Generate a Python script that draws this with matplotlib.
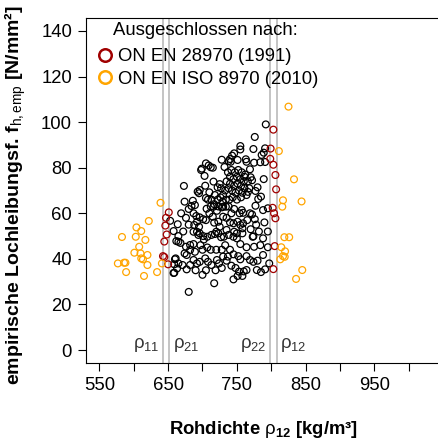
import matplotlib
matplotlib.use("Agg")
import matplotlib.pyplot as plt
from matplotlib.lines import Line2D

plt.rcParams['font.family'] = ['Liberation Sans', 'DejaVu Sans']
plt.rcParams['mathtext.fontset'] = 'custom'
plt.rcParams['mathtext.rm'] = 'Liberation Sans'
plt.rcParams['mathtext.it'] = 'Liberation Sans:italic'
plt.rcParams['mathtext.bf'] = 'Liberation Sans:bold'

# Punkte innerhalb der Grenzen (schwarz)
black_x = [792, 776, 755, 755, 774, 791, 789, 786, 746, 743, 740, 738, 741, 728, 732, 751, 763, 764,
           775, 784, 791, 705, 709, 712, 715, 699, 698, 769, 703, 770, 772, 789, 716, 725, 722, 673,
           704, 696, 693, 695, 710, 780, 777, 785, 781, 766, 764,
           737, 742, 747, 752, 757, 762, 740, 745, 750, 755, 760, 735, 740, 746, 751, 756, 761, 738,
           743, 748, 753, 758, 733, 744, 750, 756, 739, 727, 730, 734, 729, 761, 766, 768,
           718, 722, 726, 713, 717, 723,
           674, 686, 689, 684, 680, 705, 777, 788, 795, 653, 658, 664, 665, 774,
           730, 734, 728, 716, 721, 746, 757, 754, 759, 769, 772, 776,
           687, 691, 696, 701, 692, 688, 695, 705, 715, 717, 723, 730, 725, 720, 723,
           687, 692, 696, 701, 707, 713, 735, 745, 751, 755, 759, 758, 746, 750,
           665, 676, 682, 687, 674, 677, 682, 689, 694, 702, 718, 727, 731, 738, 745, 750, 758, 773,
           775, 755, 764,
           660, 665, 658, 663, 671, 677, 682, 687, 692, 696, 704, 708, 713, 721, 724, 735, 752, 755,
           764, 769, 774, 780, 788, 795, 797, 791, 785, 779, 717, 680, 745, 753, 758, 760, 764, 751,
           661, 659, 659, 662,
           708, 712, 738, 742, 735, 740, 710, 706,
           728, 733, 740, 745, 737, 730, 720, 712, 707, 700, 697, 742, 748, 728, 719, 705, 700, 690,
           784, 788, 782, 778, 790, 795, 770, 765, 676, 680, 669, 672, 668]
black_y = [99.0, 93.5, 89.5, 88.0, 88.2, 88.5, 86.6, 85.6, 86.3, 85.3, 83.8, 82.9, 82.6, 83.5, 80.3, 83.4, 83.7, 82.6,
           82.2, 82.4, 82.5, 81.9, 81.0, 80.2, 80.0, 79.6, 79.0, 79.3, 76.4, 75.8, 74.5, 75.0, 73.9, 72.8, 71.4, 72.0,
           72.1, 70.2, 69.5, 68.8, 69.2, 71.4, 69.8, 67.3, 66.3, 69.4, 68.0,
           78, 79, 78, 79, 78, 77, 76, 75, 76, 75, 74, 74, 73, 72, 73, 72, 71, 71,
           70, 69, 70, 69, 70, 67, 66, 67, 66, 71, 68, 66, 65, 76, 74, 71,
           68, 66, 67, 66, 64, 63,
           65.1, 65.5, 63.6, 63.2, 61.9, 66.7, 63.3, 61.4, 62.2, 56.7, 52.2, 55.2, 50.0, 49.9,
           62.9, 62.9, 62.6, 62.9, 61.1, 61.9, 61.4, 60.0, 60.2, 60.0, 59.5, 57.4,
           60.0, 58.8, 58.2, 57.4, 56.3, 54.9, 54.1, 57.0, 58.5, 55.9, 56.3, 58.5, 54.1, 51.9, 51.2,
           51.9, 51.9, 51.2, 50.0, 49.7, 50.5, 52.7, 55.6, 56.3, 54.9, 55.6, 53.4, 51.9, 51.2,
           47.5, 45.3, 46.1, 46.5, 42.4, 41.7, 43.9, 43.1, 50.5, 48.5, 50.9, 49.5, 49.7, 50.5, 49.7, 49.0, 51.2, 49.7,
           45.3, 46.5, 45.1,
           39.8, 38.0, 33.8, 35.8, 37.3, 35.4, 37.3, 39.5, 38.0, 38.7, 40.2, 38.7, 37.3, 39.5, 38.0, 39.2, 41.2, 39.8,
           41.2, 39.5, 38.7, 39.2, 41.7, 45.1, 38.0, 35.4, 34.2, 35.1, 29.3, 25.5, 31.0, 34.4, 32.5, 34.5, 35.1, 32.5,
           40.2, 37.6, 33.9, 47.8,
           66, 63, 63, 60, 58, 56, 60, 62,
           44, 46, 44, 42, 41, 41, 44, 44, 45, 44, 46, 37, 36, 36, 35, 35, 33, 35,
           46, 49, 52, 55, 56, 52, 53, 57, 58, 55, 60, 52, 47]

# ausgeschlossen nach ON EN 28970 (1991)
red_x = [803, 799, 798.5, 803, 806, 807, 802, 804, 806, 805, 803,
         651, 647, 646, 648, 644.5, 642.6, 644.5, 650]
red_y = [96.7, 88.4, 83.9, 81.3, 76.8, 70.5, 62.4, 60.0, 57.8, 45.6, 35.5,
         60.4, 58.0, 54.6, 50.7, 47.6, 41.2, 40.8, 37.6]

# ausgeschlossen nach ON EN ISO 8970 (2010)
orange_x = [639, 622, 604, 611, 583, 603, 617, 608, 601, 610, 620, 613.5, 611, 577, 586, 588, 620,
            589, 615, 634, 641,
            825, 811, 833, 817, 844, 816, 819, 826, 814.5, 820, 817, 813, 819.5, 845, 836]
orange_y = [64.6, 56.6, 53.8, 52.2, 49.6, 49.7, 48.3, 45.3, 42.7, 42.4, 41.7, 39.8, 40.2, 38.0, 38.3, 38.3, 37.3,
            34.2, 32.5, 34.2, 38.0,
            106.8, 87.3, 74.9, 65.7, 65.2, 62.9, 49.5, 49.5, 45.1, 43.3, 41.2, 39.8, 40.9, 35.1, 31.2]

rho_vals = [642, 652, 798, 808]
rho_names = ['11', '21', '22', '12']

x_ticks = list(range(550, 1001, 50))
x_labels = [str(t) if t % 100 == 50 else '' for t in x_ticks]
y_ticks = list(range(0, 141, 20))

fs = 13.3

fig = plt.figure(figsize=(4.39, 4.42), dpi=100)
ax = fig.add_axes([86 / 439, 79 / 442, 384 / 439, 345 / 442])

for i, r in enumerate(rho_vals):
    ax.axvline(r, color='#c4c4c4', lw=1.4, zorder=1)
    if i in (0, 2):
        ax.text(r - 5, 2, r'$\mathrm{ρ}_{' + rho_names[i] + '}$', ha='right', va='center',
                fontsize=fs, color='#333333')
    else:
        ax.text(r + 5, 2, r'$\mathrm{ρ}_{' + rho_names[i] + '}$', ha='left', va='center',
                fontsize=fs, color='#333333')

ax.scatter(black_x, black_y, s=24, facecolors='none', edgecolors='black', linewidths=0.9, zorder=3)
ax.scatter(red_x, red_y, s=24, facecolors='none', edgecolors='#a00000', linewidths=0.9, zorder=3)
ax.scatter(orange_x, orange_y, s=24, facecolors='none', edgecolors='#ffa500', linewidths=0.9, zorder=3)

ax.set_xlim(530.7, 1088.8)
ax.set_ylim(-5.7, 145.7)
ax.set_xticks(x_ticks, x_labels)
ax.set_yticks(y_ticks)
ax.tick_params(axis='both', labelsize=fs, length=6, width=0.8, direction='out', pad=4)
for sp in ax.spines.values():
    sp.set_linewidth(0.8)
ax.spines['right'].set_visible(False)

ax.set_xlabel(r'Rohdichte $\mathrm{ρ}_{\mathbf{12}}$ [kg/m³]', fontsize=fs, fontweight='bold')
ax.set_ylabel(r'empirische Lochleibungsf. f$_{\mathrm{h,emp}}$ [N/mm²]', fontsize=14.0, fontweight='bold')
ax.xaxis.set_label_coords(0.461, -0.163)
ax.yaxis.set_label_coords(-0.150, 0.488)

ax.text(0.311, 0.965, 'Ausgeschlossen nach:', transform=ax.transAxes, ha='center', va='center', fontsize=fs)
handles = [Line2D([], [], marker='o', ls='none', ms=9, mew=1.8, mfc='none', mec='#a00000'),
           Line2D([], [], marker='o', ls='none', ms=9, mew=1.8, mfc='none', mec='#ffa500')]
ax.legend(handles, ['ON EN 28970 (1991)', 'ON EN ISO 8970 (2010)'],
          loc='upper left', bbox_to_anchor=(0.030, 0.913), frameon=False, fontsize=fs,
          handletextpad=0.3, labelspacing=0.32, handlelength=0.8, borderpad=0, borderaxespad=0)

fig.savefig('out.png', dpi=100)
